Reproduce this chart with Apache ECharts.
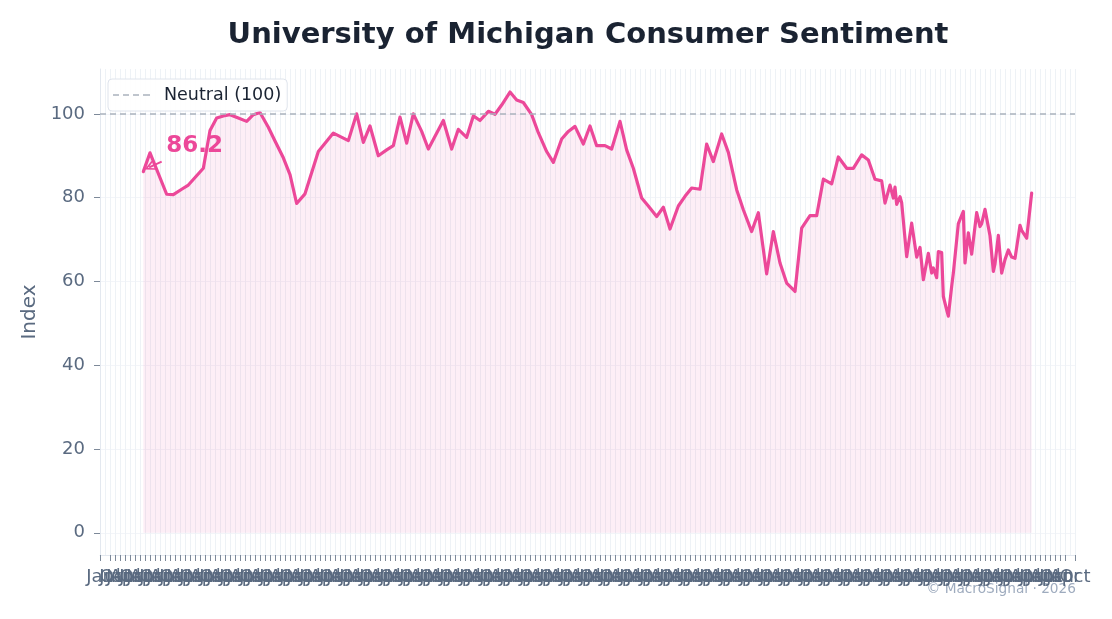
<!DOCTYPE html>
<html lang="en">
<head>
    <meta charset="utf-8">
    <title>University of Michigan Consumer Sentiment</title>
    <script src="https://cdn.jsdelivr.net/npm/echarts@6/dist/echarts.min.js"></script>
    <style>
        html, body { margin: 0; padding: 0; background: #ffffff; }
        #box { width: 1112px; height: 619px; }
    </style>
</head>
<body>
    <div id="box"></div>
    <script>
        // x: months since the axis origin, y: index value
        var months = [
            26, 30, 40, 44, 49, 53, 62, 66, 70, 74,
            78, 83, 88, 92, 96, 101, 105, 110, 114, 118,
            123, 131, 140, 149, 154, 158, 162, 167, 172, 176,
            180, 184, 188, 193, 197, 206, 211, 215, 220, 224,
            228, 233, 237, 241, 246, 250, 254, 259, 263, 268,
            272, 277, 281, 285, 290, 294, 298, 303, 307, 312,
            316, 320, 325, 329, 334, 338, 342, 347, 351, 355,
            360, 364, 368, 373, 377, 382, 386, 391, 395, 400,
            404, 408, 412, 417, 421, 426, 430, 434, 439, 443,
            448, 452, 457, 461, 465, 469, 471, 474, 476, 477,
            478, 480, 481, 484, 487, 490, 492, 494, 497, 499,
            500, 502, 503, 505, 506, 508, 509, 511, 512, 515,
            518, 519, 521, 523, 526, 528, 529, 531, 534, 536,
            537, 539, 541, 543, 545, 547, 549, 552, 553, 556,
            559
        ];
        var sentiment = [
            86.2, 90.7, 80.8, 80.7, 82.0, 83.0, 87.0, 96.0, 99.0, 99.5,
            99.8, 99.0, 98.2, 99.8, 100.3, 96.8, 93.5, 89.5, 85.5, 78.6,
            80.9, 91.0, 95.4, 93.6, 100.0, 93.2, 97.1, 90.0, 91.4, 92.4,
            99.2, 93.0, 100.0, 95.8, 91.6, 98.4, 91.6, 96.3, 94.4, 99.5,
            98.4, 100.6, 99.9, 102.1, 105.2, 103.3, 102.7, 99.8, 95.5, 91.0,
            88.4, 94.0, 95.8, 97.0, 92.8, 97.1, 92.4, 92.4, 91.6, 98.2,
            91.4, 87.0, 79.9, 78.0, 75.5, 77.7, 72.5, 78.0, 80.3, 82.3,
            82.0, 92.8, 88.6, 95.2, 90.8, 81.9, 77.1, 71.9, 76.4, 61.8,
            71.9, 64.4, 59.6, 57.6, 72.7, 75.7, 75.7, 84.4, 83.3, 89.7,
            87.0, 87.0, 90.2, 89.0, 84.4, 84.0, 78.7, 83.0, 79.9, 82.5,
            78.4, 80.2, 78.8, 65.9, 73.9, 65.8, 68.1, 60.4, 66.7, 62.0,
            63.2, 60.9, 67.1, 66.9, 56.4, 53.2, 51.7, 58.8, 62.0, 73.8,
            76.7, 64.4, 71.6, 66.5, 76.4, 73.1, 73.8, 77.2, 70.9, 62.4,
            64.2, 71.0, 62.0, 65.2, 67.5, 65.8, 65.5, 73.4, 72.2, 70.3,
            81.1
        ];
        var monthNames = ['Jan', 'Feb', 'Mar', 'Apr', 'May', 'Jun', 'Jul', 'Aug', 'Sep', 'Oct', 'Nov', 'Dec'];
        var yTicks = [0, 20, 40, 60, 80, 100];
        var NEUTRAL = 100;

        var PINK = '#ec4899';
        var AXIS_TEXT = '#5a6a80';
        var GREY_DASH = '#aab2bd';
        var FONT = 'DejaVu Sans';

        var seriesData = months.map(function (m, i) { return [m, sentiment[i]]; });
        var first = seriesData[0];

        var myChart = echarts.init(document.getElementById('box'));

        var option = {
            animation: false,
            backgroundColor: '#ffffff',
            textStyle: { fontFamily: FONT },
            title: {
                text: 'University of Michigan Consumer Sentiment',
                left: 583,
                textAlign: 'center',
                top: 16,
                textStyle: { fontFamily: FONT, fontSize: 29, fontWeight: 'bold', color: '#1a2332' }
            },
            legend: {
                data: [{
                    name: 'Neutral (100)',
                    // dashed line sample
                    icon: 'path://M0,0h6v1.5h-6z M10,0h6v1.5h-6z M20,0h6v1.5h-6z M30,0h7v1.5h-7z'
                }],
                left: 108,
                top: 79,
                padding: [7, 6, 7, 5],
                itemWidth: 37,
                itemHeight: 1.5,
                backgroundColor: 'rgba(255,255,255,0.9)',
                borderColor: '#dfe4ec',
                borderWidth: 1,
                borderRadius: 4,
                textStyle: { fontFamily: FONT, fontSize: 17.5, color: '#1a2332', padding: [0, 0, 0, 9] }
            },
            grid: { left: 100, right: 37, top: 69, bottom: 64 },
            xAxis: {
                type: 'value',
                min: 0,
                max: 585,
                interval: 3,
                axisLine: { show: true, onZero: false, lineStyle: { color: '#e3e8ef', width: 1 } },
                axisTick: { show: true, length: 6, lineStyle: { color: '#7d8999', width: 1 } },
                axisLabel: {
                    show: true,
                    margin: 13,
                    fontSize: 18,
                    color: AXIS_TEXT,
                    hideOverlap: false,
                    showMinLabel: true,
                    showMaxLabel: true,
                    formatter: function (v) { return monthNames[Math.round(v) % 12]; }
                },
                splitLine: { show: true, lineStyle: { color: '#eef2f6', width: 1 } }
            },
            yAxis: {
                type: 'value',
                min: -5.3,
                max: 110.7,
                name: 'Index',
                nameLocation: 'middle',
                nameGap: 58,
                nameTextStyle: { fontFamily: FONT, fontSize: 20, color: AXIS_TEXT },
                axisLine: { show: true, lineStyle: { color: '#e3e8ef', width: 1 } },
                axisTick: { show: true, length: 6, customValues: yTicks, lineStyle: { color: '#7d8999', width: 1 } },
                axisLabel: {
                    margin: 15,
                    fontSize: 18,
                    color: AXIS_TEXT,
                    customValues: yTicks
                },
                splitLine: { show: true, lineStyle: { color: '#f3f5f9', width: 1 } }
            },
            series: [
                {
                    name: 'Sentiment',
                    type: 'line',
                    data: seriesData,
                    symbol: 'none',
                    smooth: false,
                    z: 3,
                    lineStyle: { color: PINK, width: 3.2, join: 'round', cap: 'round' },
                    itemStyle: { color: PINK },
                    areaStyle: { color: 'rgba(236,72,153,0.13)' },
                    markPoint: {
                        silent: true,
                        symbol: 'circle',
                        symbolSize: 0,
                        data: [{ coord: first, value: first[1] }],
                        label: {
                            show: true,
                            position: [23, -26],
                            align: 'left',
                            verticalAlign: 'middle',
                            formatter: function () { return first[1].toFixed(1); },
                            fontFamily: FONT,
                            fontSize: 23,
                            fontWeight: 'bold',
                            color: PINK
                        }
                    },
                    markLine: {
                        silent: true,
                        // open chevron head, like an annotate '->' arrow
                        symbol: ['none', 'path://M0,10 L5,0 L10,10 L8.2,10 L5,3.6 L1.8,10 Z'],
                        symbolSize: 10,
                        label: { show: false },
                        lineStyle: { color: PINK, width: 2, type: 'solid' },
                        itemStyle: { color: PINK },
                        data: [[
                            { coord: [first[0] + 11, first[1] + 2.4] },
                            { coord: [first[0] + 3.5, first[1] + 1.0] }
                        ]]
                    }
                },
                {
                    name: 'Neutral (100)',
                    type: 'line',
                    data: [],
                    symbol: 'none',
                    color: GREY_DASH,
                    lineStyle: { color: GREY_DASH, width: 1.5, type: [6, 4] },
                    markLine: {
                        silent: true,
                        symbol: ['none', 'none'],
                        label: { show: false },
                        lineStyle: { color: GREY_DASH, width: 1.5, type: [6, 4] },
                        data: [{ yAxis: NEUTRAL }]
                    }
                }
            ],
            graphic: [
                {
                    type: 'text',
                    right: 36,
                    top: 582,
                    style: {
                        text: '\u00a9 MacroSignal \u00b7 2026',
                        fill: '#9eabbe',
                        font: '13.7px "DejaVu Sans"'
                    }
                }
            ]
        };

        myChart.setOption(option);
    </script>
</body>
</html>
